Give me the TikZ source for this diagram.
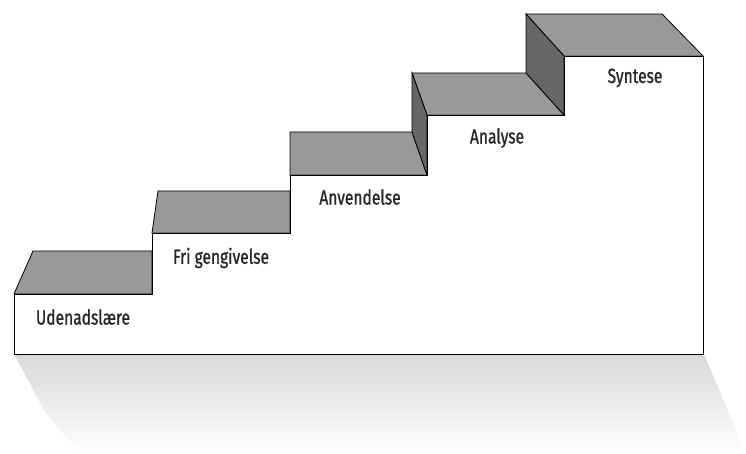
\documentclass[tikz,border=0pt]{standalone}
\usepackage{fontspec}
\usepackage{tikz}
\newfontfamily\stairfont{Fira Sans}[FakeStretch=0.76, FakeBold=0.9]
\definecolor{stairtop}{RGB}{153,153,153}
\definecolor{stairside}{RGB}{102,102,102}
\definecolor{shadowgray}{RGB}{216,216,216}

\tikzset{
  face/.style={draw=black, line width=0.8pt, line join=miter},
  steplabel/.style={font=\stairfont\fontsize{20.5}{22}\selectfont, text=black!85}
}

\begin{document}
\begin{tikzpicture}[x=1pt, y=-1pt]

\useasboundingbox (0,0) rectangle (746,454);

% Skygge
\shade[top color=shadowgray, bottom color=white]
  (14,354) -- (45,412) -- (80,454) -- (746,454) -- (746,454) -- (704,354) -- cycle;

% Trinflader (oversider)
\filldraw[face, fill=stairtop] (14,294)  -- (33,251)  -- (152,251) -- (152,294) -- cycle;
\filldraw[face, fill=stairtop] (152,233) -- (158,191) -- (290,191) -- (290,233) -- cycle;
\filldraw[face, fill=stairtop] (290,175) -- (290,132) -- (412,132) -- (427,175) -- cycle;
\filldraw[face, fill=stairtop] (427,115) -- (412,73)  -- (526,73)  -- (564,115) -- cycle;
\filldraw[face, fill=stairtop] (564,56)  -- (526,14)  -- (662,14)  -- (703,56)  -- cycle;

% Sideflader
\filldraw[face, fill=stairside] (427,175) -- (412,132) -- (412,73) -- (427,115) -- cycle;
\filldraw[face, fill=stairside] (564,115) -- (526,73)  -- (526,14) -- (564,56)  -- cycle;

% Forside
\filldraw[face, fill=white]
  (14,354) -- (14,294) -- (152,294) -- (152,233) -- (290,233) -- (290,175)
  -- (427,175) -- (427,115) -- (564,115) -- (564,56) -- (703,56) -- (703,354) -- cycle;

% Etiketter
\node[steplabel] (udenad)  at (83,317)  {Udenadslære};
\node[steplabel] (fri)     at (221,258) {Fri gengivelse};
\node[steplabel] (anvend)  at (360,197) {Anvendelse};
\node[steplabel] (analyse) at (497,138) {Analyse};
\node[steplabel] (syntese) at (635,78)  {Syntese};

\end{tikzpicture}
\end{document}
